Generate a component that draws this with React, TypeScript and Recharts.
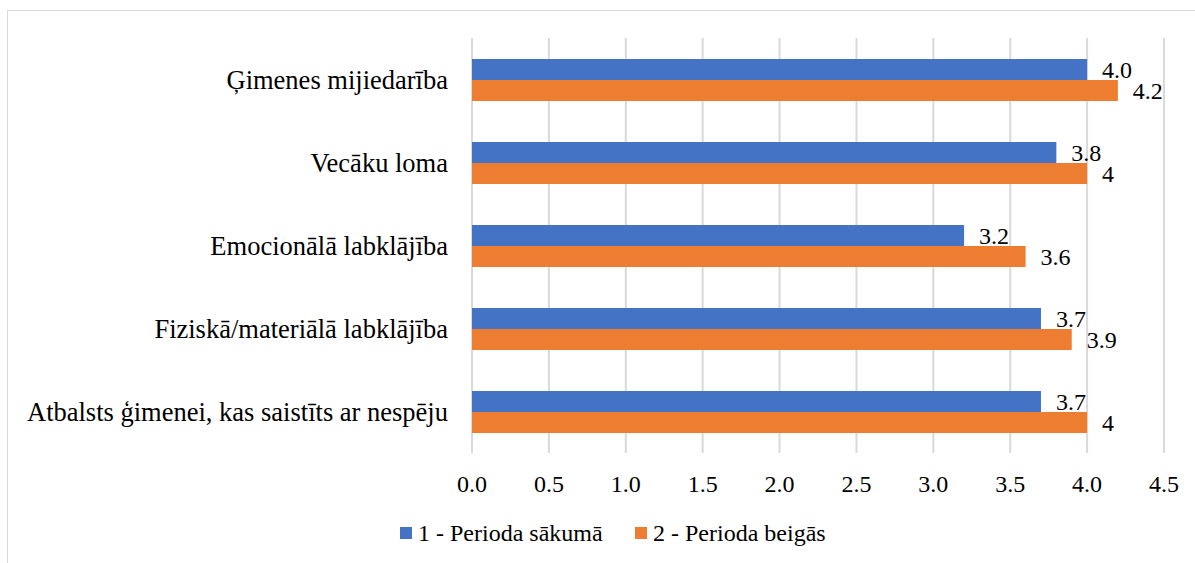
import React from "react";
import {
  BarChart, Bar, XAxis, YAxis, CartesianGrid, LabelList, Legend,
} from "recharts";

// categories, top to bottom
const categories = [
  "Ģimenes mijiedarība",
  "Vecāku loma",
  "Emocionālā labklājība",
  "Fiziskā/materiālā labklājība",
  "Atbalsts ģimenei, kas saistīts ar nespēju",
];
const periodStart = [4.0, 3.8, 3.2, 3.7, 3.7];
const periodEnd = [4.2, 4.0, 3.6, 3.9, 4.0];
const xTicks = [0, 0.5, 1, 1.5, 2, 2.5, 3, 3.5, 4, 4.5];

const seriesNames = ["1 - Perioda sākumā", "2 - Perioda beigās"];
const BLUE = "#4472C4";
const ORANGE = "#ED7D31";
const FONT = "'Liberation Serif', 'Times New Roman', serif";

const data = categories.map((name, i) => ({
  name,
  start: periodStart[i],
  end: periodEnd[i],
}));

function LegendContent() {
  const item = (color: string, label: string, left: number) => (
    <div style={{ position: "absolute", left, top: 0, height: 30, display: "flex", alignItems: "center" }}>
      <span style={{ width: 12, height: 12, background: color, display: "inline-block", marginRight: 6 }} />
      <span style={{ fontFamily: FONT, fontSize: 24, color: "#000", whiteSpace: "nowrap" }}>{label}</span>
    </div>
  );
  return (
    <div style={{ position: "relative", height: 30 }}>
      {item(BLUE, seriesNames[0], 392)}
      {item(ORANGE, seriesNames[1], 627)}
    </div>
  );
}

export default function App() {
  return (
    <div
      style={{
        position: "absolute", left: 7, top: 10,
        width: 1188, height: 553,
        borderTop: "1px solid #d9d9d9", borderLeft: "1px solid #d9d9d9",
        background: "#fff", overflow: "hidden",
      }}
    >
      <BarChart
        width={1187}
        height={552}
        data={data}
        layout="vertical"
        margin={{ top: 27, right: 31, left: 0, bottom: 15 }}
        barGap={0}
        barSize={21}
        style={{ fontFamily: FONT }}
      >
        <CartesianGrid horizontal={false} stroke="#d9d9d9" strokeWidth={2} />
        <XAxis
          type="number"
          domain={[0, 4.5]}
          ticks={xTicks}
          tickFormatter={(v: number) => v.toFixed(1)}
          axisLine={false}
          tickLine={false}
          tickSize={0}
          tickMargin={22}
          height={65}
          interval={0}
          tick={{ fill: "#000", fontSize: 24, fontFamily: FONT }}
        />
        <YAxis
          type="category"
          dataKey="name"
          width={464}
          axisLine={false}
          tickLine={false}
          tickSize={0}
          tickMargin={24}
          interval={0}
          tick={{ fill: "#000", fontSize: 26.5, fontFamily: FONT }}
        />
        <Legend verticalAlign="bottom" content={<LegendContent />} />
        <Bar dataKey="start" name={seriesNames[0]} fill={BLUE} isAnimationActive={false}>
          <LabelList
            dataKey="start"
            position="right"
            offset={15}
            formatter={(v: number) => Number(v).toFixed(1)}
            style={{ fill: "#000", fontSize: 24, fontFamily: FONT }}
          />
        </Bar>
        <Bar dataKey="end" name={seriesNames[1]} fill={ORANGE} isAnimationActive={false}>
          <LabelList
            dataKey="end"
            position="right"
            offset={15}
            formatter={(v: number) => String(v)}
            style={{ fill: "#000", fontSize: 24, fontFamily: FONT }}
          />
        </Bar>
      </BarChart>
    </div>
  );
}
